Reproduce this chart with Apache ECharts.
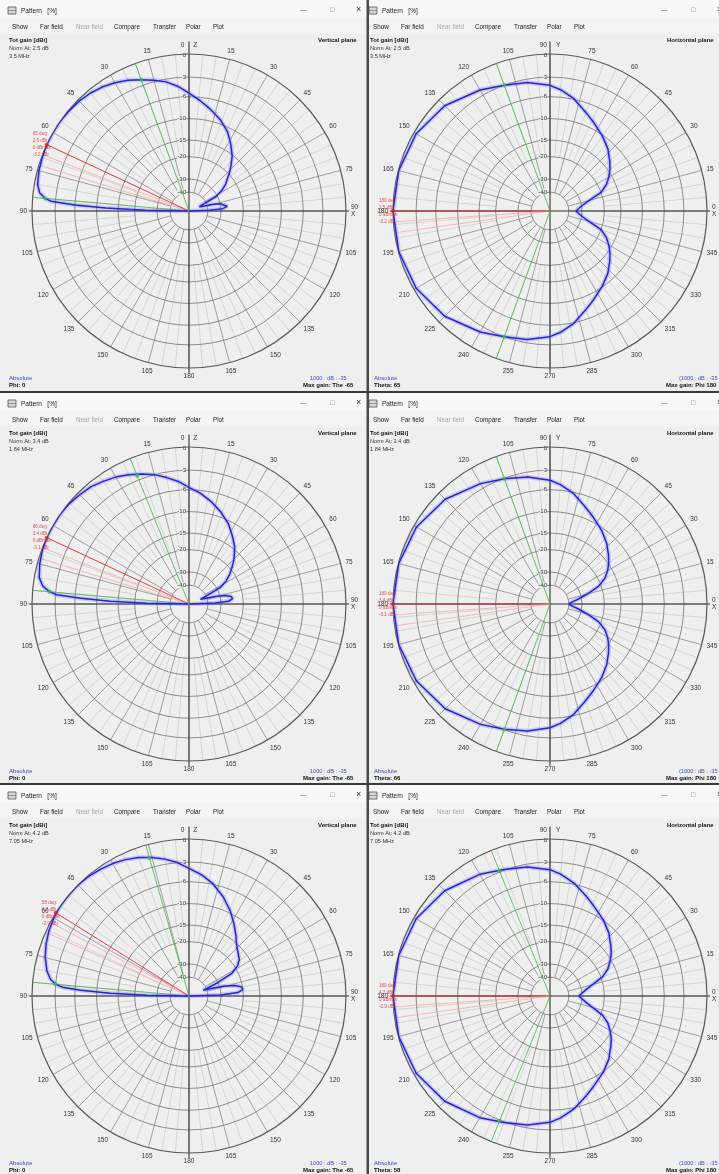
<!DOCTYPE html>
<html><head><meta charset="utf-8">
<script src="https://cdn.jsdelivr.net/npm/echarts@6/dist/echarts.min.js"></script>
<style>html,body{margin:0;padding:0;background:#efefef}#c{width:719px;height:1174px}</style>
</head><body><div id="c"></div>
<script>
// ---------- scale ----------
const K = 0.053;                        // ARRL-like log radial scale
const toR = db => Math.exp(K * db);

// ---------- grid rings / labels ----------
const ringDb = [0, -3, -6, -10, -15, -20, -30, -40];
const ringText = ['0', '-3', '-6', '-10', '-15', '-20', '-30', '-40'];

// ---------- header texts ----------
const freqText = ['3.5 MHz', '1.84 MHz', '7.05 MHz'];
const normText = ['Norm At: 2.5 dB', 'Norm At: 3.4 dB', 'Norm At: 4.2 dB'];
const thetaText = ['Theta: 65', 'Theta: 66', 'Theta: 58'];
const menuItems = ['Show', 'Far field', 'Near field', 'Compare', 'Transfer', 'Polar', 'Plot'];

// ---------- Row 1: vertical plane (angle from zenith, + = left side) ----------
const v1Angle = [-90,-88,-86,-83,-80,-77,-74,-71,-68,-65,-62,-58,-54,-50,-46,-42,-38,-32,-26,-19,-12,-6,0,5,10,15,20,25,30,35,40,45,50,55,60,65,70,75,80,83,85,86,87,88,89,90];
const v1Gain  = [-99,-38,-29,-26.5,-27,-30,-36,-46,-50,-45,-31,-26.5,-23.5,-21.6,-19.2,-17.2,-15.2,-13,-10.9,-9.2,-7.8,-6.6,-5.4,-4.3,-3.4,-2.8,-2.2,-1.6,-1.1,-0.7,-0.4,-0.2,-0.1,0,0,0,-0.1,-0.2,-0.4,-0.8,-1.6,-2.4,-6,-12,-24,-99];
// ---------- Row 1: horizontal plane (azimuth) ----------
const h1Angle = [0,5,10,15,20,25,30,35,40,47,55,64,70,78,85,90,100,110,120,135,150,165,180,195,210,225,240,250,260,270,275,282,290,296,305,313,320,325,330,335,340,345,350,355,360];
const h1Gain  = [-34,-32,-29.4,-25.5,-20,-17.5,-15.8,-14.4,-13.2,-11.6,-10.2,-8.7,-7.6,-5.9,-4.8,-4.2,-3.5,-3.0,-2.2,-1.0,-0.3,-0.05,0,-0.05,-0.3,-1.0,-2.2,-3.0,-3.5,-4.2,-4.8,-5.9,-7.6,-8.7,-10.2,-11.6,-13.2,-14.4,-15.8,-17.5,-20,-25.5,-29.4,-32,-34];

// ---------- Row 2 ----------
const v2Angle = [-90,-88,-86,-83,-80,-77,-74,-71,-68,-65,-62,-58,-54,-50,-46,-42,-38,-32,-26,-19,-12,-6,0,5,10,15,20,25,30,35,40,45,50,55,60,65,70,75,80,83,85,86,87,88,89,90];
const v2Gain  = [-99,-34,-26,-24,-24.5,-27,-33,-42,-48,-40,-28,-24,-21.5,-19.5,-17.5,-15.8,-14.2,-12.4,-10.6,-9,-7.6,-6.5,-5.6,-4.6,-3.8,-3.0,-2.4,-1.8,-1.3,-0.9,-0.5,-0.3,-0.1,0,0,0,-0.1,-0.3,-0.6,-1.2,-2.2,-3.2,-7,-13,-25,-99];
const h2Angle = [0,5,10,15,20,25,30,35,40,47,55,64,70,78,85,90,100,110,120,135,150,165,180,195,210,225,240,250,260,270,275,282,290,296,305,313,320,325,330,335,340,345,350,355,360];
const h2Gain  = [-40,-37,-32,-26.5,-21,-18,-16.2,-14.8,-13.6,-12,-10.5,-9,-7.9,-6.2,-5.1,-4.5,-3.7,-3.1,-2.3,-1.1,-0.35,-0.05,0,-0.05,-0.35,-1.1,-2.3,-3.1,-3.7,-4.5,-5.1,-6.2,-7.9,-9,-10.5,-12,-13.6,-14.8,-16.2,-18,-21,-26.5,-32,-37,-40];

// ---------- Row 3 ----------
const v3Angle = [-90,-88,-86,-83,-80,-77,-74,-71,-68,-65,-62,-58,-54,-50,-46,-42,-38,-32,-26,-19,-12,-6,0,5,10,15,20,25,30,35,40,45,50,55,60,65,70,75,80,83,85,86,87,88,89,90];
const v3Gain  = [-99,-30,-22,-20,-20.5,-23,-28,-36,-44,-30,-22,-19,-17.5,-16.8,-16,-15,-13.6,-11.6,-9.6,-7.6,-5.9,-4.8,-3.9,-3.0,-2.3,-1.7,-1.2,-0.8,-0.5,-0.3,-0.1,0,0,0,-0.1,-0.3,-0.6,-1.0,-1.6,-2.2,-3.0,-4,-7,-13,-25,-99];
const h3Angle = [0,5,10,15,20,25,30,35,40,47,55,64,70,78,85,90,100,110,120,135,150,165,180,195,210,225,240,250,260,270,275,282,290,296,305,313,320,325,330,335,340,345,350,355,360];
const h3Gain  = [-32,-30,-27.5,-24,-19.5,-17,-15.4,-14,-12.9,-11.3,-9.9,-8.5,-7.4,-5.8,-4.7,-4.1,-3.4,-2.9,-2.1,-1.0,-0.3,-0.05,0,-0.05,-0.3,-1.0,-2.1,-2.9,-3.4,-4.1,-4.7,-5.8,-7.4,-8.5,-9.9,-11.3,-12.9,-14,-15.4,-17,-19.5,-24,-27.5,-30,-32];

// ---------- markers (angle of max gain, -3 dB angles) ----------
const maxAngle   = [65, 180, 65, 180, 58, 180];
const halfAngleA = [20, 110, 22, 110, 16, 112];
const halfAngleB = [85, 250, 85, 250, 85, 248];
const maxLabels = [
  ['65 deg.', '2.5 dBi', '0 dBmax', '-3.2 dBi'],
  ['180 deg.', '2.5 dBi', '0 dBmax', '-3.2 dBi'],
  ['66 deg.', '3.4 dBi', '0 dBmax', '-3.1 dBi'],
  ['180 deg.', '3.4 dBi', '0 dBmax', '-3.1 dBi'],
  ['58 deg.', '4.2 dBi', '0 dBmax', '-2.9 dBi'],
  ['180 deg.', '4.2 dBi', '0 dBmax', '-2.9 dBi']
];

const patterns = [
  [v1Angle, v1Gain], [h1Angle, h1Gain],
  [v2Angle, v2Gain], [h2Angle, h2Gain],
  [v3Angle, v3Gain], [h3Angle, h3Gain]
];

// ---------- layout ----------
const winX = [0, 361];
const winY = [0, 393, 785];
const winH = [391, 390, 389];
const CX = [189, 550];
const CY = [211, 604, 996];
const RAD = 157;
const FONT = '"Liberation Sans", Arial, sans-serif';

const polars = [], angleAxes = [], radiusAxes = [], series = [];

function toAxisAngle(kind, a) { return (kind === 'V' && a < 0) ? a + 360 : a; }

function gainAt(ang, gain, a) {
  let best = 0, bd = 1e9;
  ang.forEach((x, j) => { const d = Math.abs(x - a); if (d < bd) { bd = d; best = j; } });
  return gain[best];
}

for (let i = 0; i < 6; i++) {
  const col = i % 2, row = Math.floor(i / 2);
  const kind = col === 0 ? 'V' : 'H';
  polars.push({ center: [CX[col], CY[row]], radius: RAD });
  angleAxes.push({
    polarIndex: i, type: 'value', min: 0, max: 360, interval: 15,
    startAngle: kind === 'V' ? 90 : 0, clockwise: false, z: 3,
    axisLine: { lineStyle: { color: '#5a5a5a', width: 1.2 } },
    axisTick: { show: false }, splitLine: { show: false },
    axisLabel: {
      margin: 5, fontSize: 6.5, color: '#333', fontFamily: FONT,
      formatter: kind === 'V'
        ? v => v === 0 ? '0     Z' : v === 270 ? '90\nX' : String(v <= 180 ? v : 360 - v)
        : v => v === 90 ? '90     Y' : v === 0 ? '0\nX' : (v === 360 ? '' : String(v))
    }
  });
  radiusAxes.push({ polarIndex: i, type: 'value', min: 0, max: 1, show: false,
    axisLine: { show: false }, axisLabel: { show: false }, splitLine: { show: false }, axisTick: { show: false } });

  const up = kind === 'V' ? 0 : 90;
  series.push({
    type: 'custom', coordinateSystem: 'polar', polarIndex: i, silent: true, z: 2,
    data: [[0, 0]],
    renderItem(params, api) {
      const c = api.coord([0, 0]);
      const pt = (r, a) => api.coord([r, a]);
      const ch = [];
      const seg = (p1, p2, color, w) => ch.push({ type: 'line', shape: { x1: p1[0], y1: p1[1], x2: p2[0], y2: p2[1] }, style: { stroke: color, lineWidth: w } });
      for (let a = 0; a < 360; a += 5) {
        if (a % 15 === 0) continue;
        seg(pt(toR(-20), a), pt(1, a), '#c8c8c8', 0.7);
      }
      for (let a = 0; a < 360; a += 15) {
        seg(pt(toR(-40), a), pt(1, a), '#8c8c8c', 0.8);
      }
      ringDb.forEach((d, j) => {
        if (j === 0) return;
        const p = pt(toR(d), up);
        const r = Math.hypot(p[0] - c[0], p[1] - c[1]);
        ch.push({ type: 'circle', shape: { cx: c[0], cy: c[1], r }, style: { fill: 'none', stroke: '#808080', lineWidth: 0.9 } });
      });
      seg(pt(1.08, up), pt(1.03, up + 180), '#333', 1.1);
      seg(pt(1.02, up + 90), pt(1.02, (up + 270) % 360), '#333', 1.1);
      ringDb.forEach((d, j) => {
        const p = pt(toR(d), up);
        ch.push({ type: 'text', x: c[0] - 3, y: p[1] + (j === 0 ? 1 : 0), style: { text: ringText[j], fill: '#333', font: '6px ' + FONT, align: 'right', verticalAlign: 'middle', backgroundColor: '#eeeeee' }, z2: 5 });
      });
      return { type: 'group', children: ch };
    }
  });

  const [ang, gain] = patterns[i];
  const pdata = ang.map((a, j) => [toR(gain[j]), toAxisAngle(kind, a)]);
  const ma = maxAngle[i];
  [4, 8].forEach(o => {
    series.push({ type: 'line', coordinateSystem: 'polar', polarIndex: i, silent: true, z: 4, symbol: 'none',
      data: [[0, ma], [1.0, ma + o]], lineStyle: { color: '#f2a8a8', width: 0.8 } });
  });
  series.push({ type: 'line', coordinateSystem: 'polar', polarIndex: i, silent: true, z: 4, symbol: 'none',
    data: [[0, ma], [1.0, ma]], lineStyle: { color: '#e83030', width: 0.9 } });
  [halfAngleA[i], halfAngleB[i]].forEach(a => {
    series.push({ type: 'line', coordinateSystem: 'polar', polarIndex: i, silent: true, z: 4, symbol: 'none',
      data: [[0, a], [1.05, a]], lineStyle: { color: '#44b444', width: 0.8 } });
    series.push({ type: 'scatter', coordinateSystem: 'polar', polarIndex: i, silent: true, z: 7,
      data: [[toR(gainAt(ang, gain, a)), a]], symbolSize: 4, itemStyle: { color: '#3cc03c' } });
    series.push({ type: 'scatter', coordinateSystem: 'polar', polarIndex: i, silent: true, z: 7,
      data: [[1.06, a]], symbolSize: 0,
      label: { show: true, formatter: '-3 dB', fontSize: 5, color: '#3a9a3a', fontFamily: FONT, position: 'left', distance: 1 } });
  });
  series.push({ type: 'line', coordinateSystem: 'polar', polarIndex: i, silent: true, z: 5, symbol: 'none',
    data: pdata, lineStyle: { color: 'rgba(120,120,235,0.30)', width: 4.5 } });
  series.push({ type: 'line', coordinateSystem: 'polar', polarIndex: i, silent: true, z: 6, symbol: 'none',
    data: pdata, lineStyle: { color: '#2424d4', width: 1.5 } });
  series.push({ type: 'scatter', coordinateSystem: 'polar', polarIndex: i, silent: true, z: 8,
    data: [[1.0, ma]], symbolSize: 4, itemStyle: { color: '#e01818' },
    label: { show: true, formatter: maxLabels[i].join('\n'), fontSize: 4.6, lineHeight: 7, color: '#e02020',
      fontFamily: FONT, position: [-12, -12], align: 'left' } });
}

// ---------- window chrome ----------
const G = [];
function txt(x, y, s, o = {}) {
  G.push({ type: 'text', x, y, z: o.z || 50, style: Object.assign({ text: s, font: (o.bold ? 'bold ' : '') + (o.size || 6.5) + 'px ' + FONT, fill: o.color || '#111', align: o.align || 'left', verticalAlign: 'middle' }, o.extra || {}) });
}
for (let row = 0; row < 3; row++) {
  for (let col = 0; col < 2; col++) {
    const x0 = winX[col], y0 = winY[row];
    const vis0 = col === 0 ? 0 : 369;
    const w = col === 0 ? 367 : 719 - 369;
    G.push({ type: 'rect', z: -20, shape: { x: vis0, y: y0, width: w, height: winH[row] }, style: { fill: '#efefef' } });
    G.push({ type: 'rect', z: -19, shape: { x: vis0, y: y0, width: w, height: 18 }, style: { fill: '#f8f8f8' } });
    G.push({ type: 'rect', z: -19, shape: { x: vis0, y: y0 + 18, width: w, height: 16 }, style: { fill: '#f3f3f3' } });
    G.push({ type: 'rect', z: 40, shape: { x: x0 + 8, y: y0 + 7, width: 8, height: 7 }, style: { fill: '#d8d8d8', stroke: '#555', lineWidth: 0.8 } });
    G.push({ type: 'line', z: 41, shape: { x1: x0 + 8, y1: y0 + 10.5, x2: x0 + 16, y2: y0 + 10.5 }, style: { stroke: '#666', lineWidth: 0.6 } });
    txt(x0 + 21, y0 + 11, 'Pattern   [%]', { size: 6.5, color: '#222' });
    txt(x0 + 300, y0 + 10, '\u2014', { size: 6.5, color: '#555' });
    txt(x0 + 330, y0 + 10, '\u25a1', { size: 7, color: '#666' });
    txt(x0 + 356, y0 + 10, '\u00d7', { size: 9, color: '#333' });
    const mx = [12, 40, 76, 114, 153, 186, 213];
    menuItems.forEach((m, j) => txt(x0 + mx[j], y0 + 27, m, { size: 6.3, color: j === 2 ? '#a8a8a8' : '#222' }));
    txt(x0 + 9, y0 + 40, 'Tot gain [dBi]', { bold: true, size: 6 });
    txt(x0 + 9, y0 + 48, normText[row], { size: 5.6, color: '#333' });
    txt(x0 + 9, y0 + 56, freqText[row], { size: 5.6, color: '#333' });
    if (col === 0) {
      txt(x0 + 318, y0 + 40, 'Vertical plane', { bold: true, size: 6, extra: { width: 48, overflow: 'truncate', ellipsis: '' } });
      txt(x0 + 9, y0 + 378, 'Absolute', { size: 6, color: '#3a4fc4' });
      txt(x0 + 9, y0 + 385, 'Phi: 0', { bold: true, size: 6 });
      txt(x0 + 310, y0 + 378, '1000 : dB : -35', { size: 5.6, color: '#3a4fc4', extra: { width: 57, overflow: 'truncate', ellipsis: '' } });
      txt(x0 + 303, y0 + 385, 'Max gain: The -65', { bold: true, size: 6, extra: { width: 64, overflow: 'truncate', ellipsis: '' } });
    } else {
      txt(x0 + 306, y0 + 40, 'Horizontal plane', { bold: true, size: 6 });
      txt(x0 + 13, y0 + 378, 'Absolute', { size: 6, color: '#3a4fc4' });
      txt(x0 + 13, y0 + 385, thetaText[row], { bold: true, size: 6 });
      txt(x0 + 318, y0 + 378, '(1000 : dB : -35', { size: 5.6, color: '#3a4fc4' });
      txt(x0 + 305, y0 + 385, 'Max gain: Phi 180', { bold: true, size: 6 });
    }
  }
}
G.push({ type: 'rect', z: 60, shape: { x: 366.5, y: 0, width: 2.5, height: 1174 }, style: { fill: '#4a4a4a' } });
G.push({ type: 'rect', z: 60, shape: { x: 0, y: 391, width: 719, height: 2 }, style: { fill: '#3a3a3a' } });
G.push({ type: 'rect', z: 60, shape: { x: 0, y: 783, width: 719, height: 2 }, style: { fill: '#3a3a3a' } });

const chart = echarts.init(document.getElementById('c'));
chart.setOption({
  animation: false,
  backgroundColor: '#efefef',
  polar: polars, angleAxis: angleAxes, radiusAxis: radiusAxes,
  series, graphic: { elements: G }
});
</script></body></html>
